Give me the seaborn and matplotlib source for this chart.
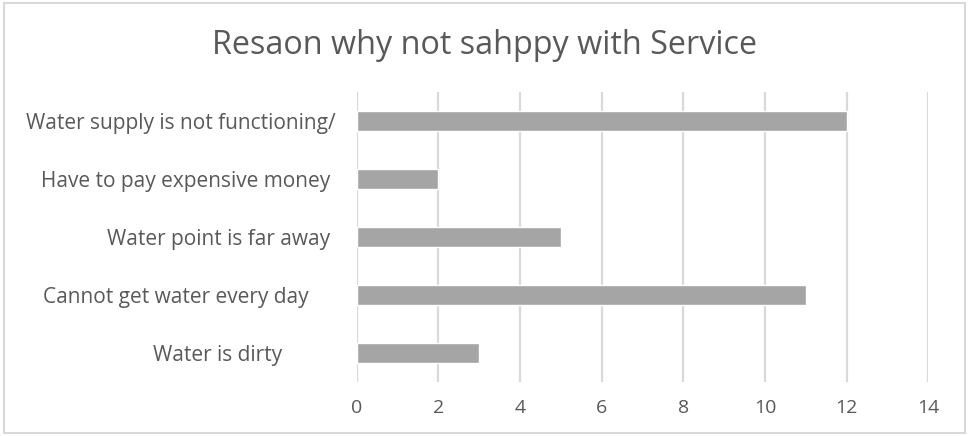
import matplotlib
matplotlib.use("Agg")
import matplotlib.pyplot as plt
import seaborn as sns
import pandas as pd
from matplotlib.patches import Rectangle

reasons = [
    "Water supply is not functioning/",
    "Have to pay expensive money ",
    "Water point is far away ",
    "Cannot get water every day     ",
    "Water is dirty          ",
]
counts = [12, 2, 5, 11, 3]
x_ticks = [0, 2, 4, 6, 8, 10, 12, 14]
title = "Resaon why not sahppy with Service"

df = pd.DataFrame({"reason": reasons, "count": counts})

sns.set_theme(style="white")
plt.rcParams["font.family"] = ["Open Sans", "DejaVu Sans"]

fig = plt.figure(figsize=(9.69, 4.36), dpi=100)
ax = fig.add_axes([0.368, 0.124, 0.59, 0.665])

sns.barplot(data=df, x="count", y="reason", orient="h", color="#a5a5a5",
            width=0.36, saturation=1, ax=ax, zorder=3)

ax.set_xlim(0, 14)
ax.set_xticks(x_ticks)
ax.set_xticklabels([str(t) for t in x_ticks])
ax.grid(axis="x", color="#d9d9d9", linewidth=1.6, zorder=0)
ax.set_axisbelow(True)
for s in ax.spines.values():
    s.set_visible(False)
ax.tick_params(axis="y", length=0, labelsize=15, labelcolor="#595959", pad=15)
ax.tick_params(axis="x", length=0, labelsize=14, labelcolor="#595959", pad=12)
ax.set_xlabel("")
ax.set_ylabel("")

fig.text(0.5, 0.895, title, ha="center", va="center", fontsize=23.3,
         color="#595959")

fig.patches.append(Rectangle((0.004, 0.006), 0.992, 0.986, transform=fig.transFigure,
                             fill=False, edgecolor="#d9d9d9", linewidth=1.5))

fig.savefig("out.png", dpi=100, facecolor="white")
